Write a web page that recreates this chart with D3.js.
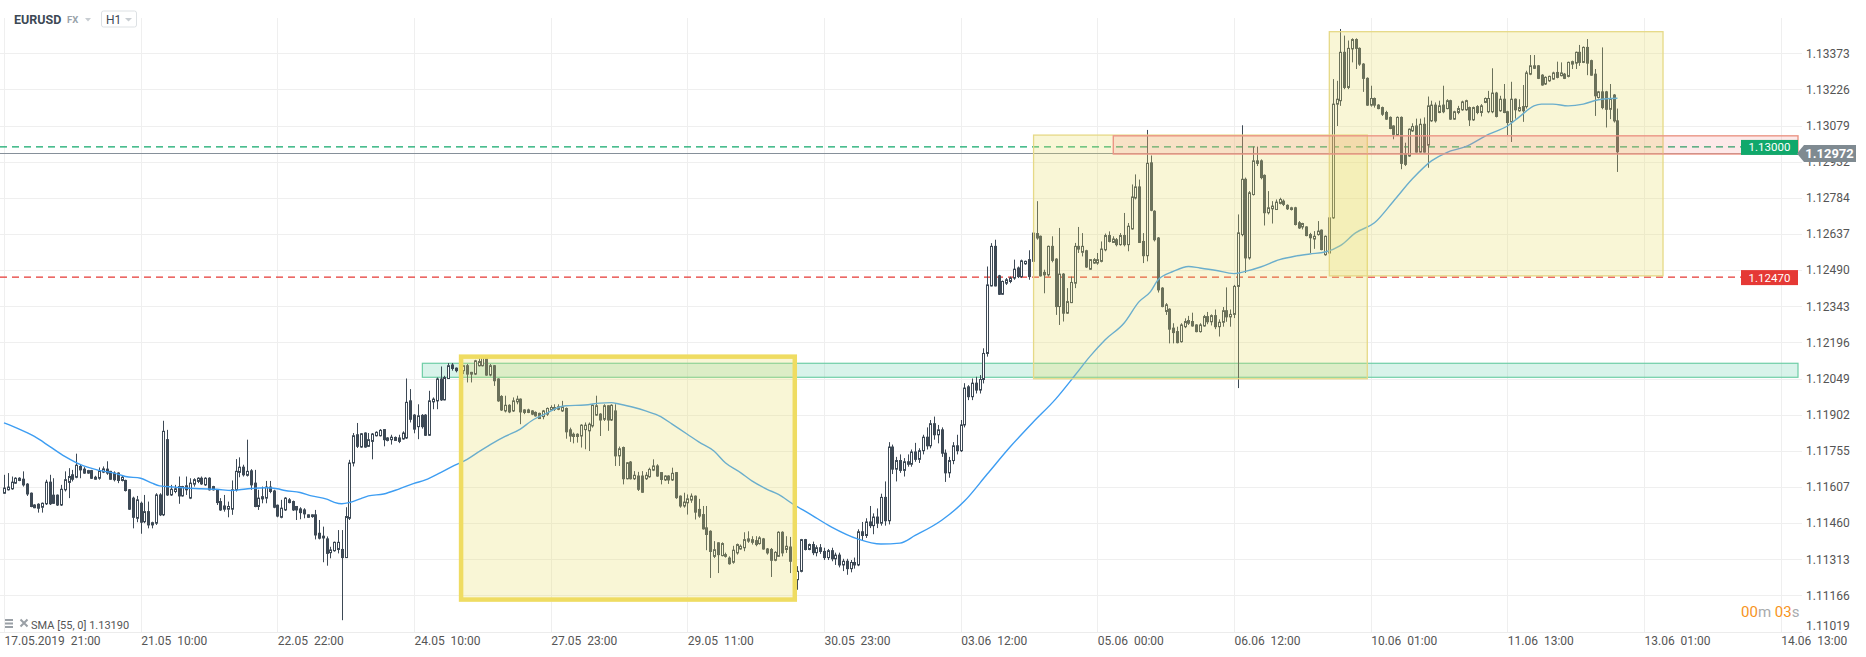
<!DOCTYPE html>
<html><head><meta charset="utf-8">
<script src="https://cdn.jsdelivr.net/npm/d3@7"></script>
<style>body{margin:0;background:#fff;}svg{display:block;font-family:Roboto,"Noto Sans",sans-serif;}</style>
</head><body><svg id="c" width="1866" height="657"></svg>
<script>
const symbol="EURUSD", market="FX", timeframe="H1";
const opens=[1.11582,1.11596,1.11600,1.11623,1.11643,1.11639,1.11619,1.11582,1.11534,1.11537,
1.11525,1.11539,1.11627,1.11574,1.11574,1.11534,1.11596,1.11626,1.11657,1.11647,
1.11691,1.11680,1.11664,1.11674,1.11639,1.11643,1.11668,1.11680,1.11671,1.11664,
1.11664,1.11634,1.11634,1.11596,1.11562,1.11480,1.11541,1.11466,1.11507,1.11453,
1.11460,1.11575,1.11494,1.11800,1.11575,1.11589,1.11609,1.11571,1.11612,1.11562,
1.11619,1.11630,1.11643,1.11616,1.11643,1.11609,1.11596,1.11548,1.11530,1.11517,
1.11517,1.11596,1.11667,1.11688,1.11655,1.11673,1.11623,1.11528,1.11559,1.11562,
1.11607,1.11591,1.11533,1.11484,1.11514,1.11555,1.11548,1.11528,1.11518,1.11514,
1.11484,1.11487,1.11494,1.11419,1.11407,1.11396,1.11340,1.11348,1.11353,1.11353,
1.11320,1.11480,1.11705,1.11820,1.11770,1.11827,1.11773,1.11793,1.11816,1.11816,
1.11841,1.11797,1.11800,1.11809,1.11807,1.11803,1.11807,1.11958,1.11900,1.11853,
1.11899,1.11900,1.11818,1.11954,1.11958,1.12047,1.11962,1.12049,1.12104,1.12091,
1.12079,1.12081,1.12101,1.12074,1.12067,1.12101,1.12101,1.12135,1.12063,1.12101,
1.12047,1.11976,1.11917,1.11940,1.11917,1.11954,1.11965,1.11921,1.11921,1.11917,
1.11911,1.11907,1.11894,1.11904,1.11921,1.11924,1.11934,1.11917,1.11927,1.11840,
1.11822,1.11822,1.11815,1.11841,1.11836,1.11856,1.11900,1.11904,1.11883,1.11938,
1.11880,1.11917,1.11734,1.11768,1.11641,1.11709,1.11641,1.11652,1.11652,1.11641,
1.11649,1.11676,1.11693,1.11666,1.11636,1.11652,1.11636,1.11666,1.11570,1.11530,
1.11543,1.11554,1.11570,1.11516,1.11495,1.11441,1.11427,1.11325,1.11380,1.11328,
1.11332,1.11318,1.11301,1.11339,1.11355,1.11360,1.11396,1.11382,1.11389,1.11377,
1.11396,1.11355,1.11353,1.11309,1.11325,1.11423,1.11353,1.11363,1.11305,1.11230,
1.11264,1.11393,1.11353,1.11373,1.11340,1.11360,1.11345,1.11320,1.11348,1.11315,
1.11330,1.11290,1.11305,1.11275,1.11300,1.11290,1.11425,1.11410,1.11465,1.11450,
1.11485,1.11460,1.11565,1.11470,1.11770,1.11680,1.11715,1.11675,1.11710,1.11700,
1.11750,1.11720,1.11755,1.11810,1.11775,1.11865,1.11820,1.11840,1.11745,1.11665,
1.11715,1.11775,1.11755,1.11860,1.12015,1.11975,1.12030,1.12002,1.12045,1.12151,
1.12426,1.12587,1.12467,1.12392,1.12437,1.12444,1.12458,1.12499,1.12464,1.12516,
1.12533,1.12526,1.12639,1.12628,1.12481,1.12471,1.12587,1.12535,1.12342,1.12474,
1.12315,1.12358,1.12437,1.12587,1.12563,1.12569,1.12494,1.12519,1.12519,1.12526,
1.12573,1.12631,1.12603,1.12614,1.12594,1.12631,1.12594,1.12658,1.12784,1.12829,
1.12607,1.12549,1.12927,1.12730,1.12621,1.12417,1.12322,1.12331,1.12254,1.12240,
1.12199,1.12260,1.12274,1.12281,1.12267,1.12240,1.12263,1.12301,1.12280,1.12305,
1.12260,1.12278,1.12325,1.12300,1.12310,1.12424,1.12635,1.12860,1.12540,1.12798,
1.12935,1.12935,1.12876,1.12724,1.12740,1.12737,1.12762,1.12771,1.12754,1.12737,
1.12744,1.12683,1.12666,1.12666,1.12635,1.12617,1.12635,1.12653,1.12553,1.12560,
1.12703,1.13166,1.13180,1.13377,1.13234,1.13391,1.13429,1.13393,1.13329,1.13271,
1.13162,1.13189,1.13162,1.13152,1.13132,1.13112,1.13077,1.13039,1.13112,1.12962,
1.12955,1.13057,1.13077,1.12971,1.13084,1.12999,1.13098,1.13162,1.13132,1.13162,
1.13148,1.13180,1.13105,1.13132,1.13143,1.13143,1.13152,1.13102,1.13156,1.13132,
1.13173,1.13135,1.13135,1.13211,1.13139,1.13186,1.13135,1.13094,1.13186,1.13139,
1.13156,1.13156,1.13288,1.13322,1.13322,1.13284,1.13248,1.13261,1.13268,1.13295,
1.13282,1.13288,1.13279,1.13329,1.13333,1.13377,1.13336,1.13397,1.13343,1.13288,
1.13193,1.13216,1.13216,1.13145,1.13203,1.13098];
const highs=[1.11657,1.11664,1.11650,1.11647,1.11647,1.11671,1.11623,1.11585,1.11537,1.11541,
1.11544,1.11637,1.11657,1.11643,1.11577,1.11616,1.11671,1.11684,1.11677,1.11743,
1.11698,1.11688,1.11677,1.11677,1.11653,1.11687,1.11691,1.11712,1.11673,1.11671,
1.11667,1.11653,1.11637,1.11599,1.11568,1.11571,1.11548,1.11575,1.11548,1.11466,
1.11582,1.11582,1.11877,1.11840,1.11616,1.11616,1.11650,1.11612,1.11650,1.11643,
1.11643,1.11647,1.11650,1.11647,1.11647,1.11612,1.11598,1.11562,1.11575,1.11548,
1.11634,1.11721,1.11728,1.11698,1.11800,1.11680,1.11677,1.11596,1.11609,1.11632,
1.11632,1.11596,1.11536,1.11555,1.11566,1.11562,1.11552,1.11530,1.11525,1.11521,
1.11496,1.11496,1.11514,1.11473,1.11446,1.11406,1.11364,1.11385,1.11432,1.11432,
1.11525,1.11718,1.11827,1.11868,1.11827,1.11830,1.11827,1.11827,1.11834,1.11843,
1.11843,1.11810,1.11820,1.11813,1.11820,1.11834,1.12049,1.12006,1.11904,1.11944,
1.11904,1.11904,1.11999,1.11972,1.12053,1.12098,1.12060,1.12112,1.12112,1.12094,
1.12090,1.12104,1.12108,1.12076,1.12125,1.12135,1.12142,1.12142,1.12108,1.12104,
1.12050,1.11981,1.11979,1.11944,1.11972,1.11979,1.11968,1.11924,1.11926,1.11920,
1.11915,1.11910,1.11921,1.11931,1.11940,1.11944,1.11944,1.11958,1.11931,1.11849,
1.11829,1.11826,1.11863,1.11870,1.11870,1.11944,1.11979,1.11908,1.11944,1.11940,
1.11944,1.11944,1.11772,1.11772,1.11709,1.11713,1.11672,1.11669,1.11672,1.11668,
1.11686,1.11720,1.11700,1.11668,1.11655,1.11655,1.11686,1.11668,1.11573,1.11584,
1.11577,1.11581,1.11573,1.11559,1.11530,1.11530,1.11431,1.11387,1.11382,1.11382,
1.11340,1.11325,1.11368,1.11377,1.11373,1.11423,1.11427,1.11407,1.11407,1.11407,
1.11400,1.11359,1.11359,1.11346,1.11427,1.11427,1.11407,1.11404,1.11312,1.11285,
1.11396,1.11396,1.11377,1.11385,1.11370,1.11375,1.11360,1.11355,1.11360,1.11340,
1.11340,1.11315,1.11315,1.11310,1.11320,1.11435,1.11465,1.11480,1.11530,1.11500,
1.11520,1.11580,1.11630,1.11790,1.11780,1.11730,1.11740,1.11725,1.11740,1.11760,
1.11787,1.11765,1.11820,1.11850,1.11880,1.11894,1.11860,1.11850,1.11760,1.11730,
1.11790,1.11820,1.11880,1.12030,1.12022,1.12049,1.12056,1.12063,1.12172,1.12505,
1.12600,1.12614,1.12471,1.12448,1.12458,1.12464,1.12533,1.12505,1.12533,1.12529,
1.12571,1.12703,1.12771,1.12631,1.12492,1.12590,1.12628,1.12539,1.12662,1.12478,
1.12417,1.12464,1.12601,1.12666,1.12641,1.12573,1.12535,1.12539,1.12560,1.12607,
1.12639,1.12648,1.12628,1.12621,1.12641,1.12723,1.12682,1.12839,1.12880,1.12859,
1.12641,1.13061,1.12957,1.12734,1.12625,1.12421,1.12356,1.12335,1.12274,1.12260,
1.12274,1.12294,1.12304,1.12317,1.12270,1.12274,1.12308,1.12320,1.12310,1.12330,
1.12290,1.12340,1.12420,1.12330,1.12430,1.12717,1.13080,1.12867,1.12812,1.12993,
1.12993,1.12941,1.12880,1.12812,1.12771,1.12778,1.12785,1.12778,1.12758,1.12748,
1.12748,1.12690,1.12683,1.12669,1.12642,1.12649,1.12690,1.12656,1.12631,1.12707,
1.13268,1.13261,1.13472,1.13445,1.13425,1.13434,1.13434,1.13397,1.13333,1.13275,
1.13241,1.13193,1.13166,1.13156,1.13139,1.13116,1.13080,1.13116,1.13116,1.13009,
1.13067,1.13088,1.13107,1.13107,1.13112,1.13197,1.13180,1.13173,1.13180,1.13241,
1.13186,1.13184,1.13139,1.13159,1.13180,1.13184,1.13156,1.13156,1.13162,1.13166,
1.13193,1.13220,1.13312,1.13216,1.13200,1.13248,1.13139,1.13257,1.13189,1.13186,
1.13244,1.13302,1.13366,1.13366,1.13325,1.13288,1.13279,1.13282,1.13298,1.13339,
1.13336,1.13293,1.13339,1.13343,1.13380,1.13407,1.13401,1.13431,1.13347,1.13309,
1.13220,1.13397,1.13220,1.13248,1.13207,1.13148];
const lows=[1.11579,1.11593,1.11596,1.11620,1.11631,1.11609,1.11571,1.11525,1.11521,1.11503,
1.11503,1.11534,1.11534,1.11539,1.11530,1.11530,1.11589,1.11562,1.11630,1.11643,
1.11643,1.11661,1.11661,1.11640,1.11637,1.11637,1.11664,1.11657,1.11637,1.11630,
1.11623,1.11630,1.11589,1.11514,1.11439,1.11464,1.11417,1.11460,1.11439,1.11439,
1.11453,1.11489,1.11489,1.11571,1.11571,1.11582,1.11539,1.11568,1.11575,1.11558,
1.11609,1.11623,1.11616,1.11612,1.11593,1.11593,1.11534,1.11510,1.11507,1.11484,
1.11494,1.11589,1.11647,1.11650,1.11650,1.11596,1.11525,1.11514,1.11541,1.11541,
1.11582,1.11521,1.11484,1.11480,1.11510,1.11541,1.11510,1.11473,1.11476,1.11480,
1.11481,1.11482,1.11394,1.11394,1.11301,1.11287,1.11317,1.11344,1.11337,1.11065,
1.11319,1.11473,1.11691,1.11766,1.11767,1.11767,1.11770,1.11720,1.11813,1.11813,
1.11773,1.11793,1.11780,1.11796,1.11786,1.11800,1.11803,1.11870,1.11826,1.11802,
1.11845,1.11815,1.11815,1.11924,1.11924,1.11958,1.11960,1.12047,1.12081,1.12074,
1.12074,1.12067,1.12033,1.12033,1.12063,1.12098,1.12098,1.12060,1.12058,1.12019,
1.11954,1.11917,1.11911,1.11908,1.11913,1.11944,1.11863,1.11904,1.11908,1.11900,
1.11894,1.11884,1.11883,1.11897,1.11917,1.11917,1.11920,1.11913,1.11804,1.11791,
1.11785,1.11788,1.11768,1.11761,1.11754,1.11849,1.11897,1.11815,1.11876,1.11836,
1.11876,1.11693,1.11693,1.11618,1.11638,1.11638,1.11636,1.11591,1.11584,1.11636,
1.11645,1.11672,1.11649,1.11618,1.11632,1.11620,1.11632,1.11559,1.11523,1.11523,
1.11495,1.11543,1.11475,1.11482,1.11434,1.11350,1.11237,1.11318,1.11257,1.11325,
1.11320,1.11291,1.11295,1.11332,1.11352,1.11346,1.11380,1.11373,1.11366,1.11373,
1.11352,1.11332,1.11241,1.11305,1.11323,1.11325,1.11339,1.11257,1.11223,1.11189,
1.11260,1.11349,1.11350,1.11330,1.11325,1.11335,1.11310,1.11310,1.11305,1.11290,
1.11280,1.11265,1.11250,1.11260,1.11275,1.11285,1.11390,1.11400,1.11440,1.11415,
1.11440,1.11450,1.11450,1.11455,1.11660,1.11630,1.11665,1.11650,1.11690,1.11690,
1.11710,1.11705,1.11740,1.11760,1.11765,1.11800,1.11785,1.11730,1.11628,1.11645,
1.11700,1.11740,1.11750,1.11850,1.11961,1.11961,1.11988,1.11988,1.12029,1.12138,
1.12424,1.12424,1.12389,1.12390,1.12430,1.12437,1.12451,1.12458,1.12458,1.12512,
1.12451,1.12519,1.12614,1.12464,1.12396,1.12464,1.12522,1.12308,1.12267,1.12281,
1.12312,1.12356,1.12417,1.12560,1.12546,1.12499,1.12492,1.12516,1.12512,1.12522,
1.12567,1.12603,1.12601,1.12587,1.12590,1.12587,1.12567,1.12655,1.12778,1.12601,
1.12519,1.12526,1.12730,1.12607,1.12399,1.12339,1.12308,1.12192,1.12192,1.12192,
1.12195,1.12254,1.12267,1.12260,1.12237,1.12236,1.12260,1.12270,1.12265,1.12250,
1.12220,1.12260,1.12280,1.12260,1.12295,1.12010,1.12628,1.12479,1.12533,1.12794,
1.12914,1.12860,1.12672,1.12717,1.12680,1.12735,1.12758,1.12751,1.12735,1.12733,
1.12672,1.12658,1.12656,1.12628,1.12560,1.12577,1.12631,1.12571,1.12549,1.12558,
1.12699,1.13077,1.13159,1.13227,1.13227,1.13336,1.13309,1.13322,1.13216,1.13159,
1.13156,1.13152,1.13145,1.13118,1.13102,1.13064,1.13023,1.13037,1.12901,1.12914,
1.12952,1.13053,1.12969,1.12969,1.12969,1.12907,1.13094,1.13091,1.13129,1.13129,
1.13145,1.13102,1.13102,1.13125,1.13139,1.13139,1.13077,1.13098,1.13125,1.13116,
1.13170,1.13129,1.13129,1.13112,1.13135,1.13129,1.13039,1.13012,1.13107,1.13135,
1.13094,1.13148,1.13284,1.13309,1.13268,1.13241,1.13244,1.13257,1.13265,1.13271,
1.13279,1.13268,1.13275,1.13309,1.13309,1.13322,1.13333,1.13284,1.13282,1.13118,
1.13189,1.13145,1.13071,1.13105,1.13091,1.12890];
const closes=[1.11603,1.11607,1.11627,1.11643,1.11634,1.11616,1.11579,1.11528,1.11523,1.11521,
1.11541,1.11627,1.11539,1.11541,1.11534,1.11598,1.11637,1.11650,1.11639,1.11696,
1.11677,1.11664,1.11674,1.11643,1.11647,1.11671,1.11681,1.11664,1.11639,1.11637,
1.11634,1.11647,1.11593,1.11517,1.11484,1.11555,1.11464,1.11507,1.11453,1.11462,
1.11575,1.11494,1.11834,1.11575,1.11598,1.11600,1.11571,1.11609,1.11596,1.11623,
1.11637,1.11643,1.11620,1.11643,1.11596,1.11596,1.11544,1.11514,1.11517,1.11528,
1.11596,1.11671,1.11688,1.11657,1.11671,1.11616,1.11528,1.11562,1.11568,1.11607,
1.11589,1.11525,1.11489,1.11521,1.11562,1.11544,1.11514,1.11514,1.11503,1.11498,
1.11494,1.11494,1.11412,1.11399,1.11400,1.11337,1.11351,1.11382,1.11382,1.11320,
1.11487,1.11705,1.11816,1.11773,1.11824,1.11770,1.11800,1.11823,1.11830,1.11838,
1.11800,1.11807,1.11810,1.11797,1.11793,1.11827,1.11952,1.11883,1.11843,1.11897,
1.11853,1.11818,1.11958,1.11965,1.12047,1.11962,1.12053,1.12101,1.12090,1.12081,
1.12087,1.12101,1.12067,1.12067,1.12121,1.12118,1.12135,1.12063,1.12101,1.12040,
1.11958,1.11921,1.11940,1.11913,1.11958,1.11965,1.11913,1.11911,1.11911,1.11904,
1.11897,1.11886,1.11917,1.11927,1.11931,1.11931,1.11924,1.11934,1.11832,1.11815,
1.11813,1.11813,1.11859,1.11859,1.11863,1.11940,1.11938,1.11880,1.11938,1.11880,
1.11940,1.11734,1.11763,1.11641,1.11706,1.11641,1.11655,1.11598,1.11586,1.11655,
1.11679,1.11693,1.11652,1.11638,1.11652,1.11636,1.11663,1.11564,1.11530,1.11546,
1.11559,1.11570,1.11505,1.11489,1.11437,1.11414,1.11345,1.11352,1.11332,1.11377,
1.11325,1.11295,1.11350,1.11373,1.11366,1.11393,1.11387,1.11393,1.11373,1.11400,
1.11355,1.11339,1.11309,1.11341,1.11423,1.11339,1.11366,1.11305,1.11271,1.11264,
1.11393,1.11353,1.11373,1.11340,1.11360,1.11345,1.11320,1.11348,1.11315,1.11330,
1.11290,1.11305,1.11275,1.11300,1.11290,1.11425,1.11410,1.11465,1.11450,1.11485,
1.11460,1.11565,1.11470,1.11770,1.11680,1.11715,1.11675,1.11710,1.11700,1.11750,
1.11720,1.11755,1.11810,1.11775,1.11865,1.11820,1.11840,1.11745,1.11665,1.11715,
1.11775,1.11755,1.11860,1.12010,1.11975,1.12030,1.12002,1.12045,1.12151,1.12430,
1.12587,1.12426,1.12392,1.12444,1.12451,1.12458,1.12494,1.12464,1.12528,1.12526,
1.12464,1.12641,1.12621,1.12467,1.12471,1.12587,1.12530,1.12342,1.12474,1.12315,
1.12362,1.12440,1.12587,1.12576,1.12587,1.12503,1.12533,1.12533,1.12533,1.12576,
1.12631,1.12607,1.12617,1.12594,1.12631,1.12594,1.12669,1.12788,1.12829,1.12603,
1.12549,1.12925,1.12734,1.12614,1.12410,1.12342,1.12349,1.12250,1.12236,1.12195,
1.12267,1.12281,1.12285,1.12263,1.12240,1.12267,1.12301,1.12280,1.12305,1.12260,
1.12278,1.12325,1.12300,1.12310,1.12424,1.12642,1.12860,1.12540,1.12805,1.12935,
1.12925,1.12867,1.12724,1.12744,1.12751,1.12767,1.12778,1.12758,1.12740,1.12744,
1.12676,1.12662,1.12680,1.12631,1.12622,1.12628,1.12649,1.12574,1.12628,1.12703,
1.13166,1.13186,1.13377,1.13234,1.13393,1.13429,1.13393,1.13329,1.13271,1.13162,
1.13189,1.13162,1.13148,1.13125,1.13105,1.13067,1.13043,1.13112,1.12925,1.12921,
1.13064,1.13075,1.12971,1.13084,1.12971,1.13159,1.13162,1.13098,1.13159,1.13135,
1.13180,1.13105,1.13135,1.13148,1.13175,1.13180,1.13102,1.13152,1.13132,1.13159,
1.13189,1.13189,1.13211,1.13116,1.13186,1.13132,1.13091,1.13186,1.13143,1.13152,
1.13139,1.13293,1.13322,1.13312,1.13271,1.13244,1.13275,1.13279,1.13293,1.13275,
1.13293,1.13271,1.13336,1.13339,1.13377,1.13336,1.13397,1.13333,1.13284,1.13200,
1.13216,1.13152,1.13145,1.13186,1.13098,1.12972];
// SMA(55) readings at selected bars
const smaIndex=[0,4,8,12,16,19,22,25,29,32,36,39,41,45,48,52,56,60,62,65,69,72,74,78,81,85,87,89,91,94,
96,100,104,108,111,115,118,122,125,129,132,136,139,143,146,148,153,157,160,162,166,169,173,176,180,183,187,190,194,197,
201,204,208,212,218,225,231,236,240,247,253,259,265,271,277,282,286,290,295,299,302,304,308,312,315,319,324,327,331,336,
340,344,348,352,356,361,366,371,376,380,385,391,396,399,403,405,408,412,416,420,425];
const smaValues=[1.11868,1.11843,1.11813,1.11773,1.11732,1.11707,1.11688,1.11675,1.11664,1.11650,
1.11643,1.11623,1.11612,1.11607,1.11603,1.11600,1.11598,1.11593,1.11596,1.11601,
1.11604,1.11600,1.11593,1.11585,1.11571,1.11558,1.11545,1.11539,1.11544,1.11560,
1.11571,1.11579,1.11599,1.11622,1.11636,1.11666,1.11690,1.11720,1.11750,1.11788,
1.11813,1.11843,1.11877,1.11908,1.11931,1.11938,1.11941,1.11949,1.11951,1.11945,
1.11931,1.11917,1.11894,1.11863,1.11822,1.11791,1.11754,1.11706,1.11666,1.11632,
1.11598,1.11577,1.11536,1.11500,1.11444,1.11395,1.11375,1.11379,1.11410,1.11472,
1.11550,1.11660,1.11770,1.11870,1.11965,1.12060,1.12138,1.12206,1.12274,1.12362,
1.12403,1.12451,1.12485,1.12505,1.12499,1.12490,1.12476,1.12485,1.12503,1.12533,
1.12547,1.12556,1.12564,1.12590,1.12642,1.12683,1.12771,1.12862,1.12935,1.12969,
1.12993,1.13043,1.13077,1.13112,1.13159,1.13166,1.13166,1.13159,1.13166,1.13184,
1.13190];
const smaLabel="SMA [55, 0] 1.13190";
const priceTicks=[1.11019,1.11166,1.11313,1.11460,1.11607,1.11755,1.11902,1.12049,1.12196,1.12343,1.12490,1.12637,1.12784,1.12932,1.13079,1.13226,1.13373];
const timeTickIndex=[0,36,72,108,144,180,216,252,288,324,360,396,432,468];
const timeTickLabels=["17.05.2019  21:00","21.05  10:00","22.05  22:00","24.05  10:00","27.05  23:00","29.05  11:00","30.05  23:00","03.06  12:00","05.06  00:00","06.06  12:00","10.06  01:00","11.06  13:00","13.06  01:00","14.06  13:00"];
// Drawn zones (bar index from/to, price top/bottom)
const yellowFrom=[120.4,271.2,349.1], yellowTo=[208.3,359.1,437.0];
const yellowTop=[1.12138,1.13040,1.13461], yellowBottom=[1.11149,1.12048,1.12467];
const yellowBold=[true,false,false];
const greenZone={from:110.2, top:1.12111, bottom:1.12054};
const pinkZone={from:292.2, top:1.13037, bottom:1.12963};
const levelPrices=[1.13000,1.12470];
const levelColors=["#10a86b","#e53935"];
const lastPrice=1.12972;
const timerParts=["00","m ","03","s"];

const svg=d3.select("#c");
const plotTop=18, plotBottom=632, plotRight=1798, gridRight=1802, lineNudge=2;
const x=d3.scaleLinear().domain([0,468]).range([4,1780.7]);
const y=d3.scaleLinear().domain([1.11017,1.13590]).range([632,0]);
const n=Math.min(opens.length,highs.length,lows.length,closes.length);

// grid
const g=svg.append("g");
g.selectAll(".hg").data(priceTicks).enter().append("line")
 .attr("x1",0).attr("x2",gridRight).attr("y1",d=>Math.round(y(d))+0.5).attr("y2",d=>Math.round(y(d))+0.5)
 .attr("stroke","#efefef");
g.selectAll(".vg").data(timeTickIndex).enter().append("line")
 .attr("x1",d=>Math.round(x(d))+0.5).attr("x2",d=>Math.round(x(d))+0.5).attr("y1",plotTop).attr("y2",plotBottom)
 .attr("stroke","#efefef");
g.append("line").attr("x1",0).attr("x2",gridRight).attr("y1",plotBottom+0.5).attr("y2",plotBottom+0.5).attr("stroke","#ececec");

// green zone (under candles)
svg.append("rect").attr("x",x(greenZone.from)).attr("y",y(greenZone.top))
 .attr("width",plotRight-x(greenZone.from)).attr("height",y(greenZone.bottom)-y(greenZone.top))
 .attr("fill","rgba(40,190,140,0.18)").attr("stroke","#6fcea6").attr("stroke-width",1.2);

// levels
levelPrices.forEach((p,i)=>{
  svg.append("line").attr("x1",0).attr("x2",1741).attr("y1",y(p)+lineNudge).attr("y2",y(p)+lineNudge)
   .attr("stroke",levelColors[i]).attr("stroke-width",1.2).attr("stroke-dasharray","7,5");
});
svg.append("line").attr("x1",0).attr("x2",plotRight).attr("y1",Math.round(y(lastPrice))+1.5).attr("y2",Math.round(y(lastPrice))+1.5)
 .attr("stroke","#86909a").attr("stroke-width",1.2);

// candles
const cc="#3d4955";
const cg=svg.append("g");
const idx=d3.range(n);
cg.selectAll(".w").data(idx).enter().append("line")
 .attr("x1",i=>Math.round(x(i))+0.5).attr("x2",i=>Math.round(x(i))+0.5)
 .attr("y1",i=>y(highs[i])).attr("y2",i=>y(lows[i])).attr("stroke",cc).attr("stroke-width",1);
cg.selectAll(".b").data(idx).enter().append("rect")
 .attr("x",i=>Math.round(x(i))-0.5).attr("width",2)
 .attr("y",i=>y(Math.max(opens[i],closes[i])))
 .attr("height",i=>Math.max(0.6,Math.abs(y(opens[i])-y(closes[i]))))
 .attr("fill",i=>closes[i]>=opens[i]?"#ffffff":cc).attr("stroke",cc).attr("stroke-width",1);

// SMA
const sma=d3.line().x((d,i)=>x(smaIndex[i])).y(d=>y(d)).curve(d3.curveMonotoneX);
svg.append("path").attr("d",sma(smaValues)).attr("fill","none").attr("stroke","#3d9df2").attr("stroke-width",1.4);

// yellow overlays
yellowFrom.forEach((f,i)=>{
  svg.append("rect").attr("x",x(f)).attr("y",y(yellowTop[i]))
   .attr("width",x(yellowTo[i])-x(f)).attr("height",y(yellowBottom[i])-y(yellowTop[i]))
   .attr("fill","rgba(233,220,105,0.27)")
   .attr("stroke",yellowBold[i]?"#efdc62":"#e6d987").attr("stroke-width",yellowBold[i]?4.5:1.3);
});
// pink zone overlay
svg.append("rect").attr("x",x(pinkZone.from)).attr("y",y(pinkZone.top))
 .attr("width",plotRight-x(pinkZone.from)).attr("height",y(pinkZone.bottom)-y(pinkZone.top))
 .attr("fill","rgba(240,110,110,0.15)").attr("stroke","#eb9585").attr("stroke-width",1.4);

// price axis labels
svg.selectAll(".pl").data(priceTicks).enter().append("text")
 .attr("x",1806).attr("y",d=>Math.min(y(d),626)+4.3).attr("font-size",12).attr("fill","#555").text(d=>d.toFixed(5));
// time labels
svg.selectAll(".tl").data(timeTickIndex).enter().append("text")
 .attr("x",d=>x(d)+0.5).attr("y",645).attr("font-size",12).attr("fill","#555")
 .attr("xml:space","preserve").style("white-space","pre").text((d,i)=>timeTickLabels[i]);

// level labels
levelPrices.forEach((p,i)=>{
  const yy=y(p)+lineNudge+0.5;
  svg.append("rect").attr("x",1741).attr("y",yy-7.5).attr("width",57).attr("height",15).attr("fill",levelColors[i]);
  svg.append("text").attr("x",1769.5).attr("y",yy+4).attr("text-anchor","middle").attr("font-size",11.5).attr("fill","#fff").text(p.toFixed(5));
});
// last price tag
{
  const yy=y(lastPrice)+1.7;
  svg.append("path").attr("d",`M1797,${yy} L1804,${yy-8.5} L1856,${yy-8.5} L1856,${yy+8.5} L1804,${yy+8.5} Z`).attr("fill","#7f8a91");
  svg.append("text").attr("x",1829.5).attr("y",yy+4.6).attr("text-anchor","middle").attr("font-size",13).attr("font-weight","bold").attr("fill","#fff").text(lastPrice.toFixed(5));
}

// header
svg.append("text").attr("x",14).attr("y",23.5).attr("font-size",12.5).attr("font-weight","bold").attr("fill","#3d4955").text(symbol);
svg.append("text").attr("x",67).attr("y",23).attr("font-size",9.5).attr("font-weight","bold").attr("fill","#9aa3ab").text(market);
svg.append("path").attr("d","M85,18 L91,18 L88,21.5 Z").attr("fill","#c8cdd2");
svg.append("rect").attr("x",101.5).attr("y",11).attr("width",35).attr("height",16).attr("rx",2).attr("fill","#fff").attr("stroke","#dde1e4");
svg.append("text").attr("x",106).attr("y",23.5).attr("font-size",12).attr("fill","#3d4955").text(timeframe);
svg.append("path").attr("d","M125,18 L132,18 L128.5,21.5 Z").attr("fill","#c8cdd2");

// SMA legend
svg.append("rect").attr("x",5).attr("y",619).attr("width",8).attr("height",2).attr("fill","#9aa0a6");
svg.append("rect").attr("x",5).attr("y",622.5).attr("width",8).attr("height",2).attr("fill","#9aa0a6");
svg.append("rect").attr("x",5).attr("y",626).attr("width",8).attr("height",2).attr("fill","#9aa0a6");
svg.append("path").attr("d","M20.5,619.5 L27.5,626.5 M27.5,619.5 L20.5,626.5").attr("stroke","#9aa0a6").attr("stroke-width",2);
svg.append("text").attr("x",31).attr("y",629).attr("font-size",11).attr("fill","#555").text(smaLabel);

// timer
const tt=svg.append("text").attr("x",1741).attr("y",617).attr("font-size",15);
timerParts.forEach((t,i)=>tt.append("tspan").attr("fill",i%2===0?"#f7941d":"#a8abae").text(t));
</script></body></html>
